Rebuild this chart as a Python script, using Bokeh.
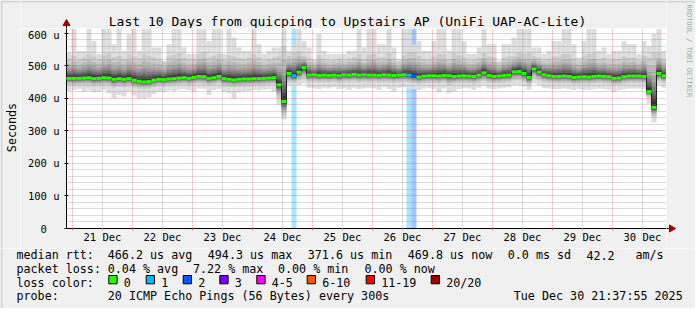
import re
import pandas as pd
from bokeh.plotting import figure
from bokeh.layouts import row, column
from bokeh.models import (FixedTicker, Grid, Range1d, DatetimeTickFormatter)
from bokeh.core.properties import value
from bokeh.embed import file_html
from bokeh.resources import INLINE

# ---------------- data ----------------
START = "2025-12-20 21:37:55"
END = "2025-12-30 21:37:55"
BIN_HOURS = 2

median_us = [
    461, 461, 461, 462, 463, 460, 461, 463, 462, 458,
    460, 458, 460, 455, 452, 450, 451, 455, 458, 457,
    459, 460, 462, 463, 461, 464, 467, 466, 461, 463,
    467, 460, 458, 456, 458, 459, 459, 460, 460, 461,
    462, 463, 441, 390, 476, 469, 480, 494, 471, 472,
    470, 471, 470, 471, 469, 472, 471, 473, 471, 472,
    471, 471, 470, 472, 471, 470, 471, 472, 471, 468,
    465, 468, 469, 469, 468, 470, 469, 467, 468, 469,
    468, 467, 471, 478, 470, 467, 468, 470, 471, 481,
    482, 476, 464, 490, 480, 472, 469, 467, 467, 468,
    467, 464, 465, 466, 465, 467, 468, 467, 466, 461,
    462, 466, 468, 468, 468, 467, 420, 372, 476, 469,
]
smoke_top_us = [
    540, 614, 545, 545, 614, 576, 536, 614, 614, 566,
    614, 546, 597, 614, 546, 614, 614, 556, 556, 515,
    566, 614, 614, 556, 536, 536, 614, 614, 576, 614,
    614, 536, 614, 586, 556, 546, 546, 614, 566, 536,
    546, 556, 556, 614, 546, 565, 614, 576, 556, 520,
    597, 546, 536, 536, 536, 536, 546, 546, 614, 556,
    614, 614, 566, 566, 614, 556, 520, 614, 614, 565,
    576, 546, 546, 576, 614, 614, 546, 614, 614, 576,
    536, 536, 556, 614, 566, 566, 515, 566, 566, 586,
    614, 614, 614, 556, 556, 536, 546, 576, 576, 614,
    614, 566, 525, 576, 614, 614, 546, 556, 536, 546,
    546, 576, 566, 566, 536, 576, 560, 597, 614, 546,
]
smoke_hi_us = [
    522, 530, 518, 525, 535, 528, 520, 532, 538, 526,
    530, 520, 534, 528, 522, 536, 530, 525, 520, 512,
    528, 533, 538, 524, 518, 520, 535, 540, 526, 530,
    536, 518, 532, 528, 522, 520, 524, 534, 526, 516,
    520, 524, 530, 560, 530, 540, 545, 530, 524, 512,
    532, 520, 516, 518, 520, 515, 522, 524, 536, 520,
    534, 536, 524, 526, 538, 522, 512, 532, 540, 540,
    530, 520, 518, 528, 536, 534, 520, 538, 532, 526,
    516, 518, 524, 538, 528, 526, 510, 524, 528, 530,
    540, 536, 538, 530, 526, 518, 520, 528, 528, 536,
    534, 522, 514, 528, 536, 538, 520, 524, 516, 520,
    520, 528, 524, 526, 516, 530, 525, 540, 540, 522,
]
smoke_lo_us = [
    440, 438, 440, 441, 440, 437, 438, 440, 439, 432,
    436, 434, 437, 432, 430, 428, 430, 434, 437, 436,
    438, 439, 441, 442, 440, 442, 444, 443, 438, 441,
    444, 437, 436, 434, 436, 437, 438, 439, 438, 440,
    441, 442, 400, 345, 450, 446, 455, 460, 449, 450,
    448, 449, 448, 450, 446, 450, 449, 451, 448, 450,
    449, 450, 448, 450, 449, 447, 449, 450, 448, 445,
    443, 446, 447, 446, 445, 448, 440, 444, 446, 447,
    446, 444, 448, 452, 447, 445, 446, 448, 449, 455,
    456, 450, 440, 462, 455, 450, 447, 445, 445, 446,
    445, 442, 443, 444, 443, 445, 446, 445, 444, 440,
    441, 444, 446, 446, 446, 445, 403, 342, 452, 447,
]
smoke_bot_us = [
    423, 425, 428, 420, 424, 418, 420, 426, 415, 400,
    410, 405, 420, 408, 400, 398, 402, 412, 420, 418,
    424, 422, 426, 428, 425, 420, 430, 428, 410, 425,
    428, 420, 415, 398, 418, 420, 422, 425, 424, 426,
    428, 420, 380, 335, 440, 435, 440, 445, 432, 430,
    428, 432, 430, 434, 428, 430, 426, 432, 428, 430,
    432, 430, 426, 434, 428, 420, 432, 434, 430, 428,
    426, 430, 432, 428, 418, 430, 415, 420, 428, 432,
    430, 426, 432, 438, 430, 428, 430, 432, 434, 440,
    440, 436, 426, 445, 440, 432, 430, 428, 428, 430,
    428, 425, 428, 426, 425, 428, 430, 428, 426, 420,
    425, 428, 430, 430, 430, 428, 383, 326, 440, 432,
]
# lost pings (of 20) per bin index; all other bins lost none
loss_by_bin = {45: 1, 68: 1, 69: 2}

y_ticks = [0, 100, 200, 300, 400, 500, 600]
y_tick_labels = ["0\u00a0\u00a0", "100 u", "200 u", "300 u", "400 u", "500 u", "600 u"]
y_minor_ticks = [v for v in range(20, 620, 20) if v % 100 != 0]
Y_MAX = 614

loss_labels = ["0", "1", "2", "3", "4-5", "6-10", "11-19", "20/20"]
loss_colors = ["#26ff00", "#00b8ff", "#0059ff", "#7e00ff", "#ff00ff", "#ff5500", "#ff0000", "#a10000"]

title_text = "Last 10 Days from quicping to Upstairs AP (UniFi UAP-AC-Lite)"
y_title = "Seconds"
credit_text = "RRDTOOL / TOBI OETIKER"
row1 = ["median rtt:", "466.2 us avg", "494.3 us max", "371.6 us min", "469.8 us now", "0.0 ms sd", "42.2", "am/s"]
row2 = ["packet loss:", "0.04 % avg", "7.22 % max", "0.00 % min", "0.00 % now"]
row3_head = "loss color:"
row4 = ["probe:", "20 ICMP Echo Pings (56 Bytes) every 300s", "Tue Dec 30 21:37:55 2025"]

# ---------------- geometry (canvas pixels) ----------------
FONT = "DejaVu Sans Mono"
BG = "#f0f0f0"
SHADE = "#d4d4d4"
W, H = 695, 308
FR_L, FR_R, FR_T, FR_B = 66, 666, 28, 228
STRIP_L = 20          # left strip width
STRIP_R = W - FR_R    # right strip width (starts at frame right edge)
TOP_H = 28            # title strip height
MAIN_BOTTOM = 248     # bottom of main figure
MAIN_W = W - STRIP_L - STRIP_R
TDY = -3.5            # baseline correction for text glyphs

t0 = pd.Timestamp(START)
t1 = pd.Timestamp(END)
ms0 = t0.value / 1e6
ms1 = t1.value / 1e6
bin_ms = BIN_HOURS * 3600 * 1000
n = len(median_us)
lefts = [ms0 + k * bin_ms for k in range(n)]
rights = [l + bin_ms for l in lefts]


def loss_color(c):
    if c <= 0:
        return loss_colors[0]
    if c == 1:
        return loss_colors[1]
    if c == 2:
        return loss_colors[2]
    if c == 3:
        return loss_colors[3]
    if c <= 5:
        return loss_colors[4]
    if c <= 10:
        return loss_colors[5]
    if c <= 19:
        return loss_colors[6]
    return loss_colors[7]


def no_align(f):
    if "frame_align" in f.properties():
        f.frame_align = False
    return f


def aux_fig(w, h):
    f = figure(width=w, height=h, x_range=Range1d(0, w), y_range=Range1d(h, 0),
               output_backend="svg", toolbar_location=None, title=None,
               x_axis_location=None, y_axis_location=None,
               min_border_left=0, min_border_right=0, min_border_top=0, min_border_bottom=0,
               background_fill_color=BG, border_fill_color=BG, outline_line_color=None)
    f.xgrid.visible = False
    f.ygrid.visible = False
    return no_align(f)


def put_text(f, s, x, y, size="11.7px", align="left", baseline="alphabetic", angle=0.0, color="black"):
    f.text(x=[x], y=[y], text=[s], text_font=value(FONT), text_font_size=value(size),
           text_align=align, text_baseline=baseline, angle=angle, text_color=color)


# ---------------- main chart ----------------
p = figure(width=MAIN_W, height=MAIN_BOTTOM - TOP_H, x_axis_type="datetime",
           x_range=Range1d(ms0, ms1), y_range=Range1d(0, Y_MAX),
           output_backend="svg", toolbar_location=None, title=None,
           min_border_left=FR_L - STRIP_L, min_border_right=0,
           min_border_top=FR_T - TOP_H, min_border_bottom=MAIN_BOTTOM - FR_B,
           background_fill_color="white", border_fill_color=BG,
           outline_line_color=None)
no_align(p)

# loss background bands
lb = sorted(loss_by_bin)
p.quad(left=[lefts[k] for k in lb], right=[rights[k] for k in lb], bottom=0, top=Y_MAX,
       fill_color=[loss_color(loss_by_bin[k]) for k in lb], fill_alpha=0.35, line_color=None)

# smoke
fracs = [0.75, 0.58, 0.46, 0.37, 0.29, 0.22, 0.16, 0.10]
p.quad(left=lefts, right=rights, bottom=smoke_bot_us, top=smoke_top_us,
       fill_color="#dddddd", line_color=None)
p.quad(left=lefts, right=rights, bottom=smoke_lo_us, top=smoke_hi_us,
       fill_color="#cacaca", line_color=None)
for i, f in enumerate(fracs, start=3):
    g = int(190 / 10 * (10 - i)) + 50
    col = "#%02x%02x%02x" % (g, g, g)
    lo = [m - (m - l) * f for m, l in zip(median_us, smoke_lo_us)]
    hi = [m + (h - m) * f for m, h in zip(median_us, smoke_hi_us)]
    p.quad(left=lefts, right=rights, bottom=lo, top=hi, fill_color=col, line_color=None)

# median line
st = p.step(x=lefts + [ms1], y=median_us + [median_us[-1]], mode="after",
            line_color="#202020", line_width=1)
st.level = "annotation"
mcols = [loss_color(loss_by_bin.get(k, 0)) for k in range(n)]
seg = p.segment(x0=lefts, x1=rights, y0=median_us, y1=median_us,
                line_color=mcols, line_width=3, line_cap="butt")
seg.level = "annotation"

# grids
p.xgrid.visible = False
p.ygrid.visible = False
days = pd.date_range("2025-12-21", "2025-12-30", freq="D")
midnights = [d.value / 1e6 for d in days]
noons = [(d + pd.Timedelta(hours=12)).value / 1e6 for d in days]
gx_minor = Grid(dimension=0, ticker=FixedTicker(ticks=noons), grid_line_color="#808080",
                grid_line_alpha=0.55, grid_line_dash="1 1", level="guide")
gx_major = Grid(dimension=0, ticker=FixedTicker(ticks=midnights), grid_line_color="#d04040",
                grid_line_alpha=0.5, grid_line_dash="1 1", level="guide")
gy = Grid(dimension=1, ticker=FixedTicker(ticks=y_ticks[1:], minor_ticks=y_minor_ticks),
          grid_line_color="#d04040", grid_line_alpha=0.5, grid_line_dash="1 1",
          minor_grid_line_color="#808080", minor_grid_line_alpha=0.55,
          minor_grid_line_dash="1 1", level="guide")
for g in (gx_minor, gy, gx_major):
    p.add_layout(g)

# axes
xa = p.xaxis[0]
xa.ticker = FixedTicker(ticks=noons, minor_ticks=midnights)
xa.formatter = DatetimeTickFormatter(days="%d %b", hours="%d %b", hourmin="%d %b", months="%d %b")
xa.major_label_text_font = FONT
xa.major_label_text_font_size = "10.5px"
xa.major_label_text_color = "black"
xa.major_label_standoff = 0
xa.major_tick_out = 2
xa.major_tick_in = 0
xa.major_tick_line_color = "#c0c0c0"
xa.minor_tick_out = 2
xa.minor_tick_in = 0
xa.minor_tick_line_color = "#e08080"
xa.axis_line_color = "black"

ya = p.yaxis[0]
ya.ticker = FixedTicker(ticks=y_ticks)
ya.major_label_overrides = {v: s for v, s in zip(y_ticks, y_tick_labels)}
ya.major_label_text_font = FONT
ya.major_label_text_font_size = "10.5px"
ya.major_label_text_color = "black"
ya.major_label_standoff = 5
ya.major_tick_out = 2
ya.major_tick_in = 2
ya.major_tick_line_color = "black"
ya.minor_tick_out = 0
ya.minor_tick_in = 0
ya.axis_line_color = "black"

# ---------------- title strip ----------------
ft = aux_fig(MAIN_W, TOP_H)
ft.quad(left=[0], right=[MAIN_W], top=[0], bottom=[2], fill_color=SHADE, line_color=None)
put_text(ft, title_text, 347 - STRIP_L, 24 + TDY, size="13px", align="center")
ax = FR_L - STRIP_L
ft.segment(x0=[ax], y0=[TOP_H], x1=[ax], y1=[22], line_color="black", line_width=1)
ft.scatter(x=[ax], y=[23], marker="triangle", size=7, fill_color="#a00000", line_color="#a00000")

# ---------------- side strips ----------------
fl = aux_fig(STRIP_L, MAIN_BOTTOM)
fl.quad(left=[0], right=[2], top=[0], bottom=[MAIN_BOTTOM], fill_color=SHADE, line_color=None)
fl.quad(left=[0], right=[STRIP_L], top=[0], bottom=[2], fill_color=SHADE, line_color=None)
put_text(fl, y_title, 15 + TDY, 127, align="center", angle=1.5707963)

fr = aux_fig(STRIP_R, MAIN_BOTTOM)
fr.quad(left=[0], right=[STRIP_R], top=[0], bottom=[2], fill_color=SHADE, line_color=None)
fr.segment(x0=[0], y0=[FR_B], x1=[5], y1=[FR_B], line_color="black", line_width=1)
fr.scatter(x=[5], y=[FR_B], marker="triangle", angle=-1.5707963, size=7,
           fill_color="#a00000", line_color="#a00000")
put_text(fr, credit_text, 688 - FR_R, 4, size="7px", align="left", baseline="middle",
         angle=-1.5707963, color="#a8a8a8")

# ---------------- legend strip ----------------
LEG_H = H - MAIN_BOTTOM
fb = aux_fig(W, LEG_H)
fb.quad(left=[0], right=[2], top=[0], bottom=[LEG_H], fill_color=SHADE, line_color=None)
oy = MAIN_BOTTOM - TDY
row1_x = [16, 107.3, 207.3, 307.3, 407.3, 507.3, 586, 635]
for s, x in zip(row1, row1_x):
    put_text(fb, s, x, 258.3 - oy)
row2_x = [16, 107.3, 192.5, 277.5, 364]
for s, x in zip(row2, row2_x):
    put_text(fb, s, x, 272 - oy)
put_text(fb, row3_head, 16, 285.7 - oy)
sw_x = [108.3, 145.7, 182.7, 219.3, 256.3, 306.7, 365.7, 430.7]
sy0 = MAIN_BOTTOM
fb.quad(left=sw_x, right=[x + 8.3 for x in sw_x], top=[275 - sy0] * len(sw_x),
        bottom=[283.3 - sy0] * len(sw_x), fill_color=loss_colors, line_color="black", line_width=1)
for s, x in zip(loss_labels, sw_x):
    put_text(fb, s, x + 15, 285.7 - oy)
row4_x = [16, 107.3, 513.3]
for s, x in zip(row4, row4_x):
    put_text(fb, s, x, 299.3 - oy)

layout = column(row(fl, column(ft, p, spacing=0), fr, spacing=0), fb, spacing=0)

html = file_html(layout, INLINE)
html = re.sub(r"<body([^>]*)>", r'<body\1 style="margin:0;background:#9a9a9a">', html, count=1)
open("out.html", "w").write(html)
